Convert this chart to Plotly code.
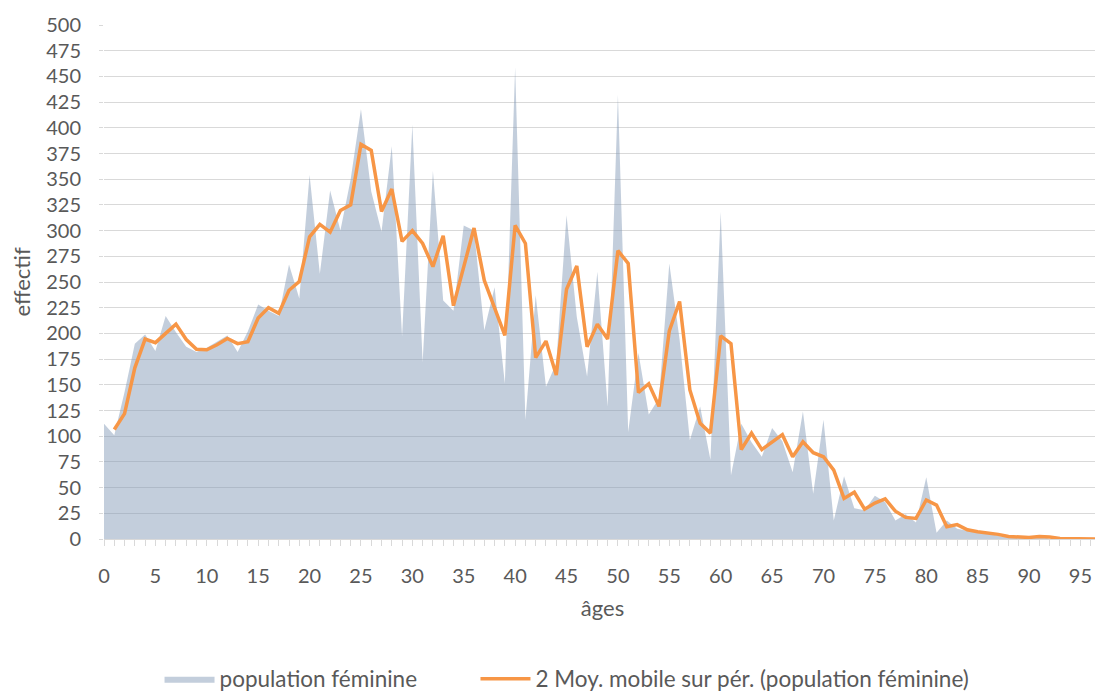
import plotly.graph_objects as go

ages = list(range(0, 98))
population_feminine = [
    112, 101, 143, 190, 199, 183, 217, 201, 187, 182,
    186, 192, 198, 182, 202, 228, 222, 217, 267, 234,
    354, 258, 339, 300, 350, 418, 338, 299, 382, 197,
    403, 172, 358, 232, 222, 305, 300, 203, 245, 151,
    459, 116, 237, 148, 171, 315, 216, 158, 260, 129,
    432, 104, 181, 121, 137, 268, 194, 96, 129, 77,
    318, 62, 112, 94, 80, 108, 95, 65, 124, 44,
    116, 18, 61, 30, 28, 42, 36, 18, 24, 16,
    60, 6, 18, 10, 8, 6, 6, 3, 2, 2,
    1, 4, 0, 1, 0, 0, 0, 0,
]
y_ticks = list(range(0, 501, 25))
x_ticks = list(range(0, 96, 5))

# 2-period moving average
moy_mobile = [(population_feminine[i - 1] + population_feminine[i]) / 2 for i in range(1, len(ages))]
ages_mm = ages[1:]

font_family = "Lato, 'Open Sans', sans-serif"
text_color = "#595959"

fig = go.Figure()
fig.add_trace(go.Scatter(
    x=ages, y=population_feminine, mode="lines", fill="tozeroy",
    fillcolor="rgba(127,151,181,0.47)", line=dict(width=0, color="rgba(127,151,181,0.47)"),
    name="population féminine", legend="legend",
))
fig.add_trace(go.Scatter(
    x=ages_mm, y=moy_mobile, mode="lines",
    line=dict(color="#F79646", width=3.5),
    name="2 Moy. mobile sur pér. (population féminine)", legend="legend2",
))

leg_common = dict(orientation="h", yanchor="middle", y=-0.2724, xanchor="left",
                  font=dict(size=22.5, color=text_color), itemwidth=50,
                  bgcolor="rgba(0,0,0,0)")

# the page body adds an 8px offset, so the figure is sized 8px smaller
fig.update_layout(
    width=1095, height=685,
    margin=dict(l=96, r=2, t=17, b=154, autoexpand=False),
    paper_bgcolor="white", plot_bgcolor="white",
    font=dict(family=font_family, color=text_color, size=20),
    showlegend=True,
    legend=dict(x=0.0557, **leg_common),
    legend2=dict(x=0.3726, **leg_common),
    xaxis=dict(
        range=[0, 97], tickvals=x_ticks, ticktext=[str(v) for v in x_ticks],
        ticks="outside", ticklen=6, tickcolor="#d9d9d9", ticklabelstandoff=13,
        minor=dict(dtick=1, tick0=0, ticks="outside", ticklen=6, tickcolor="#d9d9d9", showgrid=False),
        showgrid=False, showline=True, linecolor="#d9d9d9", linewidth=1,
        zeroline=False, automargin=False,
        tickfont=dict(size=20, color=text_color),
        title=dict(text="âges", font=dict(size=22, color=text_color), standoff=14),
    ),
    yaxis=dict(
        range=[0, 500], tickvals=y_ticks, ticktext=[str(v) for v in y_ticks],
        showgrid=True, gridcolor="#d9d9d9", gridwidth=1,
        zeroline=False, showline=False, ticks="outside", ticklen=4, tickcolor="#d9d9d9",
        ticklabelstandoff=14, automargin=False,
        tickfont=dict(size=20, color=text_color),
        title=dict(text="effectif", font=dict(size=22, color=text_color), standoff=14),
    ),
)

fig.write_html("out.html")
